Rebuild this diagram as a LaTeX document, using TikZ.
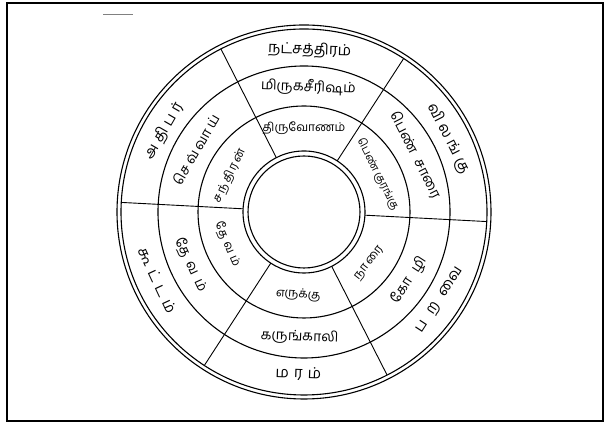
\documentclass[tikz,border=0pt]{standalone}
\usepackage{fontspec}
\newfontfamily\tam[Script=Tamil]{Hind Madurai}
\newcommand{\gp}[1]{\hspace{#1pt}}
\begin{document}
\begin{tikzpicture}[x=1pt,y=1pt,
  ringline/.style={line width=1.1pt},
  divline/.style={line width=0.9pt},
  outerlbl/.style={font=\tam\fontsize{15}{17}\selectfont, inner sep=0pt},
  midlbl/.style={font=\tam\fontsize{14}{16}\selectfont, inner sep=0pt},
  innerlbl/.style={font=\tam\fontsize{12}{14}\selectfont, inner sep=0pt}]
\useasboundingbox (0,0) rectangle (606,427);
\fill[white] (0,0) rectangle (606,427);
\draw[line width=1.4pt] (7,6) rectangle (603,424);
\draw[gray, line width=0.8pt] (103,413) -- (133,413);
\coordinate (C) at (304,215);
\begin{scope}[shift={(C)}]
  \draw[ringline] (0,0) circle (187);
  \draw[ringline] (0,0) circle (183);
  \draw[ringline] (0,0) circle (146);
  \draw[ringline] (0,0) circle (106);
  \draw[ringline] (0,0) circle (61);
  \draw[ringline] (0,0) circle (56);
  \foreach \a in {117,57,-3,-63,-123,177}
    \draw[divline] (\a:61) -- (\a:183);
  % top sector
  \node[outerlbl, rotate=-2] (t1) at (88:162) {நட்சத்திரம்};
  \node[midlbl, rotate=-2]   (t2) at (88:125) {மிருகசீரிஷம்};
  \node[innerlbl, rotate=0]  (t3) at (90:84) {திருவோணம்};
  % top-right sector
  \node[outerlbl, rotate=-63] (tr1) at (27:162) {வி\gp4ல\gp4ங்\gp4கு};
  \node[midlbl, rotate=-63]   (tr2) at (27:125) {பெண்\gp8சாரை};
  \node[innerlbl, rotate=-63, font=\tam\fontsize{11}{13}\selectfont] (tr3) at (27:83) {பெண் குரங்கு};
  % bottom-right sector
  \node[outerlbl, rotate=57] (br1) at (-33:162) {ப\gp9ற\gp9வை};
  \node[midlbl, rotate=57]   (br2) at (-33:125) {கோ\gp9ழி};
  \node[innerlbl, rotate=52] (br3) at (-38:83) {நா\gp2ரை};
  % bottom sector
  \node[outerlbl, rotate=-2] (b1) at (-92:162) {ம\gp5ர\gp5ம்};
  \node[midlbl, rotate=-2]   (b2) at (-92:125) {கருங்காலி};
  \node[innerlbl, rotate=-4] (b3) at (-94:83) {எருக்கு};
  % bottom-left sector
  \node[outerlbl, rotate=-65] (bl1) at (-155:162) {கூ\gp5ட்\gp5ட\gp5ம்};
  \node[midlbl, rotate=-65]   (bl2) at (-155:125) {தே\gp6வ\gp6ம்};
  \node[innerlbl, rotate=-67] (bl3) at (-157:83) {தே\gp4வ\gp4ம்};
  % top-left sector
  \node[outerlbl, rotate=60] (tl1) at (150:162) {அ\gp4தி\gp4ப\gp4ர்};
  \node[midlbl, rotate=60]   (tl2) at (150:125) {செ\gp3வ்\gp3வா\gp3ய்};
  \node[innerlbl, rotate=64] (tl3) at (154:83) {ச\gp2ந்\gp2தி\gp2ர\gp2ன்};
\end{scope}
\end{tikzpicture}
\end{document}
